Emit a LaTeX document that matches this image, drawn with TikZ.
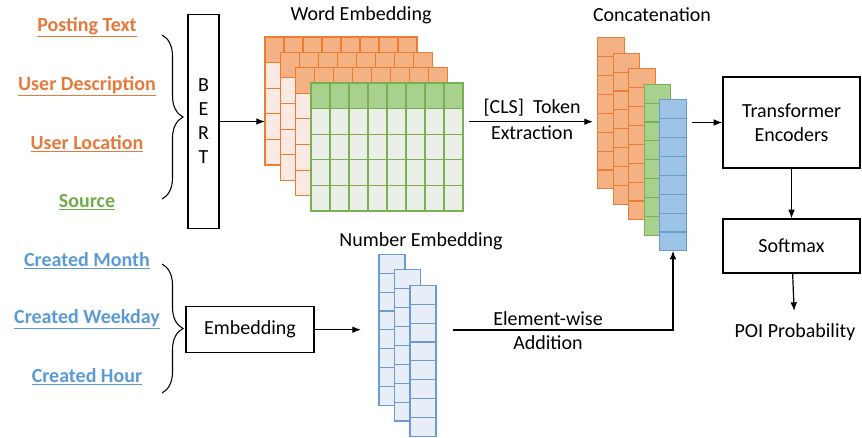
\documentclass[tikz,border=0pt]{standalone}
\usepackage{fontspec}
\setmainfont{Carlito}
\usetikzlibrary{decorations.pathreplacing,arrows.meta}
\definecolor{orline}{HTML}{ED7D31}
\definecolor{orfill}{HTML}{F4B183}
\definecolor{orpale}{HTML}{FBEAE4}
\definecolor{ortext}{HTML}{E57A3C}
\definecolor{grline}{HTML}{78B052}
\definecolor{grfill}{HTML}{A9D18E}
\definecolor{grpale}{HTML}{EBEFE7}
\definecolor{grtext}{HTML}{70AD47}
\definecolor{blline}{HTML}{6C9BD2}
\definecolor{blfill}{HTML}{9DC3E6}
\definecolor{blpale}{HTML}{E8EEF8}
\definecolor{bltext}{HTML}{5B9BD5}
\begin{document}
\begin{tikzpicture}[x=0.75pt,y=-0.75pt,>={Latex[length=6.5pt,width=5pt]},
    every node/.style={font=\fontsize{15}{18}\selectfont},
    box/.style={draw,line width=0.9pt,inner sep=0},
    link/.style={->,line width=0.9pt},
    input/.style={font=\fontsize{15}{18}\selectfont\bfseries},
    brace/.style={decorate,decoration={brace,amplitude=15.75pt},line width=0.8pt},
    orhead/.style={draw=orline,fill=orfill,line width=0.8pt},
    orbody/.style={draw=orline,fill=orpale,line width=0.8pt},
    grhead/.style={draw=grline,fill=grfill,line width=0.8pt},
    grbody/.style={draw=grline,fill=grpale,line width=0.8pt},
    orcell/.style={draw=orline,fill=orfill,line width=0.8pt},
    grcell/.style={draw=grline,fill=grfill,line width=0.8pt},
    blcell/.style={draw=blline,fill=blfill,line width=0.8pt},
    nbcell/.style={draw=blline,fill=blpale,line width=0.8pt}]
  \useasboundingbox (0,0) rectangle (862,437);
  % inputs
  \node[input,text=ortext] (post) at (87,27) {\underline{Posting Text}};
  \node[input,text=ortext] (udesc) at (87,86) {\underline{User Description}};
  \node[input,text=ortext] (uloc) at (87,144) {\underline{User Location}};
  \node[input,text=grtext] (src) at (87,202) {\underline{Source}};
  \node[input,text=bltext] (month) at (87,261) {\underline{Created Month}};
  \node[input,text=bltext] (wday) at (87,319) {\underline{Created Weekday}};
  \node[input,text=bltext] (hour) at (87,377) {\underline{Created Hour}};
  \draw[brace] (162,35) -- (162,199);
  \draw[brace] (162,264) -- (162,393);
  % encoders
  \node[box,minimum width=23.25pt,minimum height=160pt,align=center] (bert) at (203.5,121.5) {B\\E\\R\\T};
  \node[box,minimum width=96pt,minimum height=34.5pt] (emb) at (250,329.7) {Embedding};
  % word embedding
  \node (wetitle) at (361,15) {Word Embedding};
  \foreach \k/\col in {0/or,1/or,2/or,3/gr}
    \foreach \i in {0,...,7}
      \foreach \j in {0,...,4}{
        \ifnum\j=0 \def\sty{\col head}\else\def\sty{\col body}\fi
        \draw[\sty] ({265+15.33*\k+19*\i},{37+15.33*\k+25.6*\j}) rectangle ++(19,25.6);
      }
  % number embedding
  \node (nbtitle) at (421,241) {Number Embedding};
  \foreach \k in {0,1,2}
    \foreach \j in {0,...,7}
      \draw[nbcell] ({379+15.5*\k},{254.3+15.5*\k+18.9*\j}) rectangle ++(26,18.9);
  % concatenation
  \node (cattitle) at (652,15) {Concatenation};
  \foreach \k/\col in {0/or,1/or,2/or,3/gr,4/bl}
    \foreach \j in {0,...,7}
      \draw[\col cell] ({597.7+15.5*\k},{37.7+15.5*\k+18.9*\j}) rectangle ++(26.5,18.9);
  % head
  \node[box,minimum width=102.75pt,minimum height=68.25pt,align=center] (tr) at (791.5,122.5) {Transformer\\Encoders};
  \node[box,minimum width=102.75pt,minimum height=40.5pt] (sm) at (791.5,246) {Softmax};
  \node[outer sep=6pt] (poi) at (795,332) {POI Probability};
  % connectors
  \coordinate (wein) at (265,121.5);
  \coordinate (nbin) at (361,329.7);
  \coordinate (clsin) at (469,121.7);
  \coordinate (clsout) at (593,121.7);
  \coordinate (catout) at (692,122.5);
  \coordinate (ewin) at (452.7,330);
  \coordinate (catbot) at (673,250.7);
  \node (cls) at (532,108) {[CLS]\ \ Token};
  \node (ext) at (532,133) {Extraction};
  \node (ew) at (548,319) {Element-wise};
  \node (add) at (548,343) {Addition};
  \draw[link] (bert) -- (wein);
  \draw[link] (emb) -- (nbin);
  \draw[link] (clsin) -- (clsout);
  \draw[link] (catout) -- (tr);
  \draw[link] (ewin) -| (catbot);
  \draw[link] (tr) -- (sm);
  \draw[link] (sm) -- (poi);
\end{tikzpicture}
\end{document}
